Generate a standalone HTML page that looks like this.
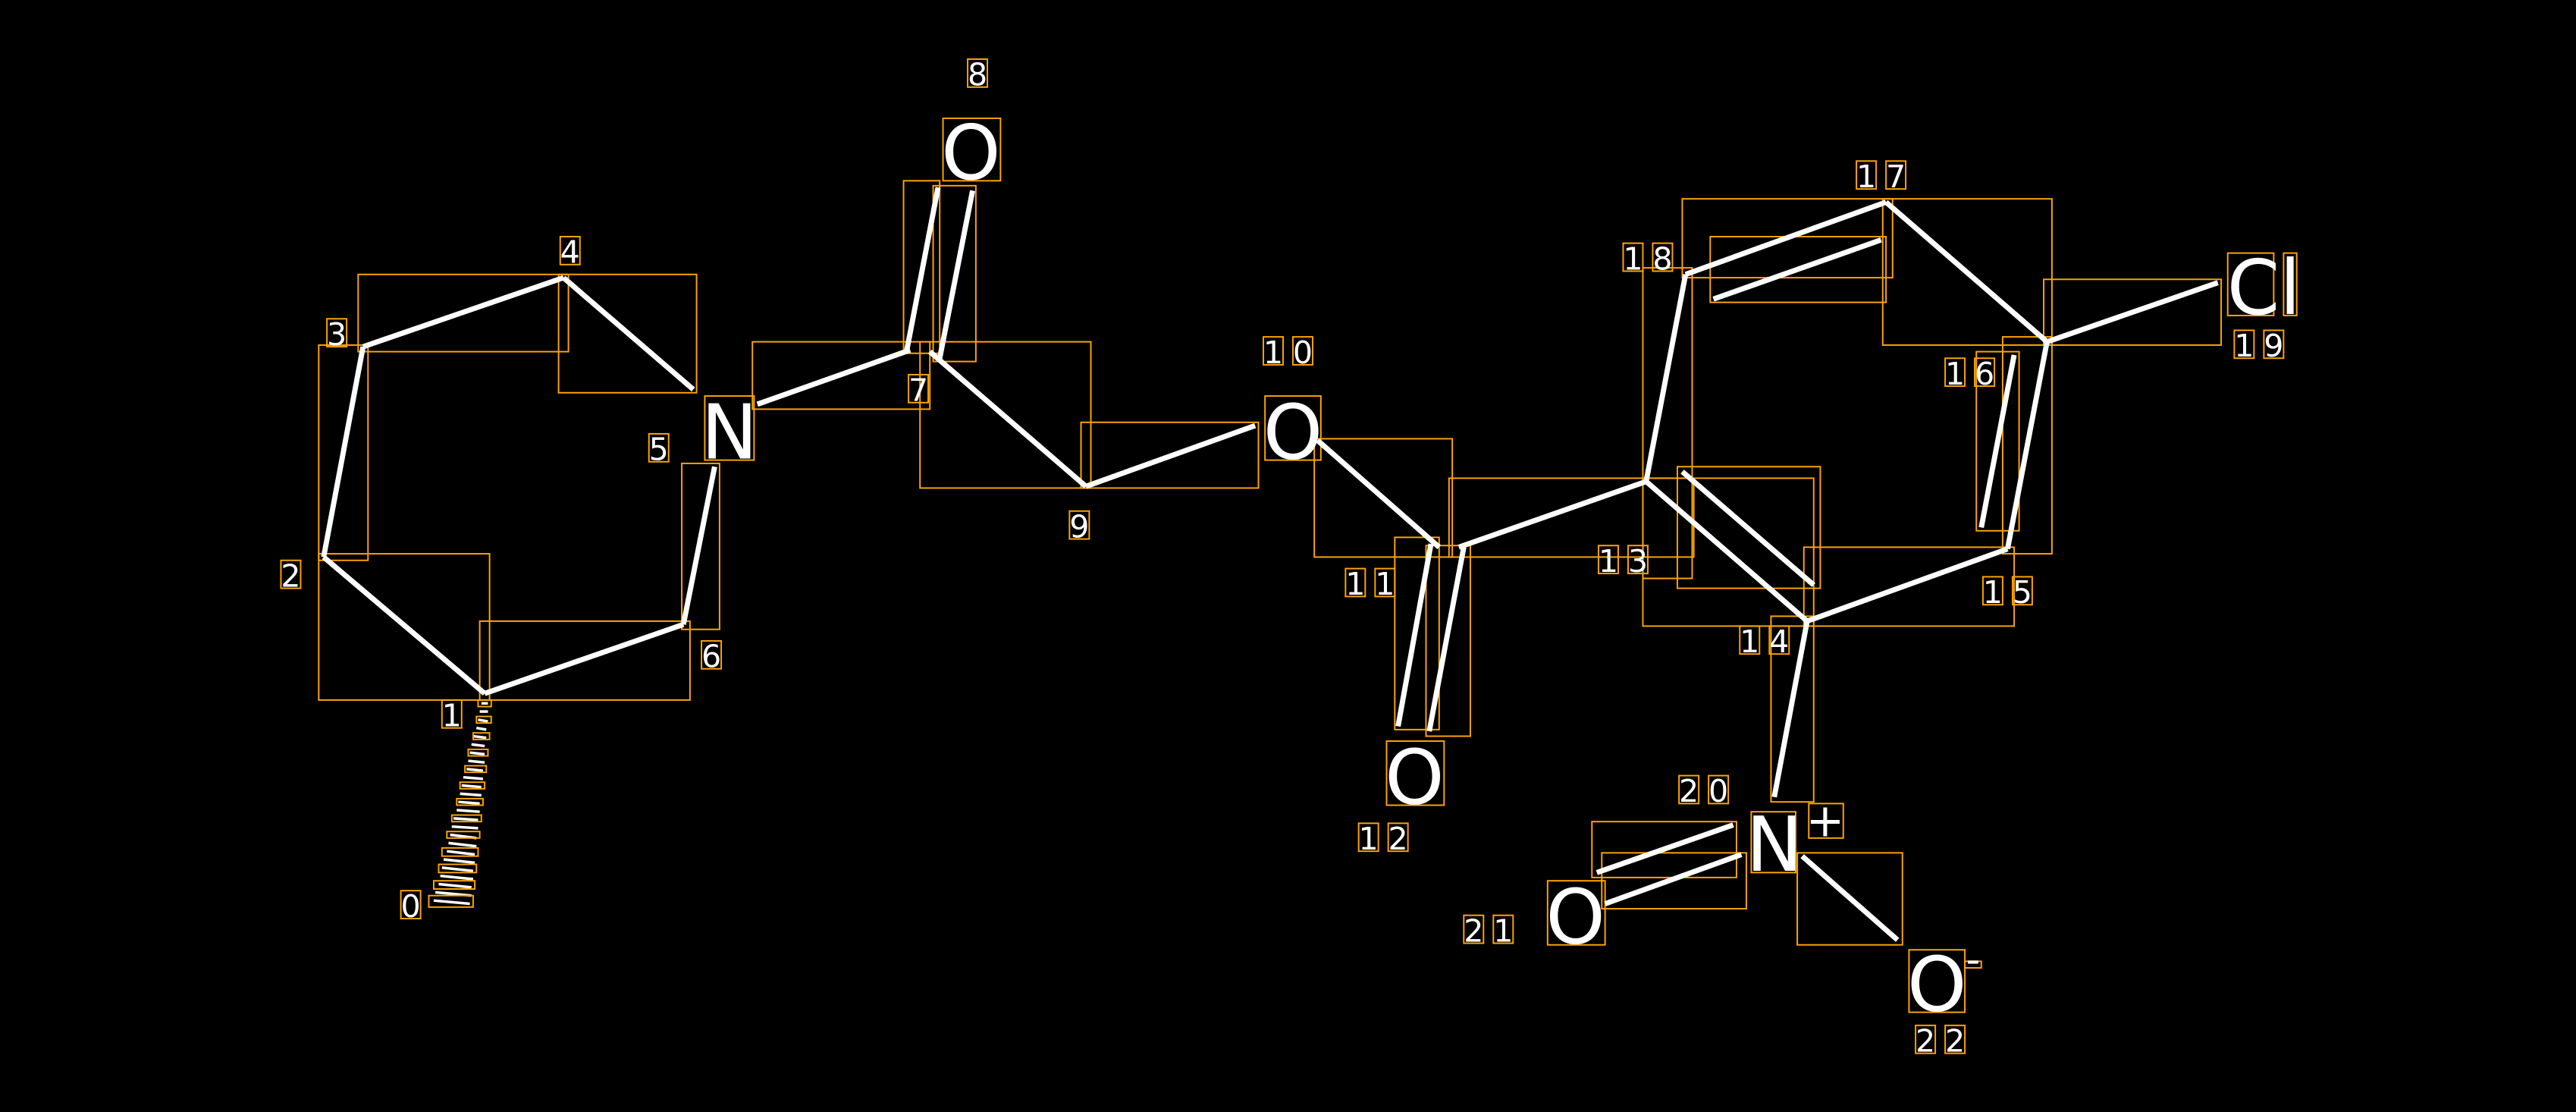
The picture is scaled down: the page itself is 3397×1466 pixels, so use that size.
<!DOCTYPE html>
<html><head><meta charset="utf-8"><style>
html,body{margin:0;padding:0;background:#000;width:3397px;height:1466px;overflow:hidden}
svg{display:block}
.b{stroke:#fff;stroke-width:3.2;stroke-linecap:butt;fill:none}
.o{stroke:#FFA500;stroke-width:0.9;fill:none}
.d{fill:#fff;font-family:"DejaVu Sans","Liberation Sans",sans-serif;font-size:19px;text-anchor:middle}
.a{fill:#fff;font-family:"DejaVu Sans","Liberation Sans",sans-serif;font-size:46px;text-anchor:middle}
</style></head><body>
<svg width="3397" height="1466" viewBox="0 0 1568 676.7" preserveAspectRatio="none" xmlns="http://www.w3.org/2000/svg">
<rect width="1568" height="676.7" fill="#000"/>
<g class="o">
<rect x="194" y="337" width="104" height="89"/>
<rect x="194" y="210" width="30" height="131"/>
<rect x="218" y="167" width="128" height="47"/>
<rect x="340" y="167" width="84" height="72"/>
<rect x="415" y="282" width="23" height="101"/>
<rect x="292" y="378" width="128" height="48"/>
<rect x="429" y="241" width="30" height="39"/>
<rect x="458" y="208" width="108" height="41"/>
<rect x="550" y="110" width="22" height="105"/>
<rect x="568" y="113" width="26" height="107"/>
<rect x="574" y="72" width="35" height="38"/>
<rect x="560" y="208" width="104" height="89"/>
<rect x="658" y="257" width="108" height="40"/>
<rect x="770" y="241" width="34" height="39"/>
<rect x="800" y="267" width="84" height="72"/>
<rect x="849" y="327" width="27" height="117"/>
<rect x="868" y="332" width="27" height="116"/>
<rect x="844" y="451" width="35" height="39"/>
<rect x="882" y="291" width="149" height="48"/>
<rect x="1000" y="291" width="104" height="90"/>
<rect x="1021" y="284" width="87" height="74"/>
<rect x="1000" y="163" width="30" height="189"/>
<rect x="1024" y="121" width="128" height="48"/>
<rect x="1041" y="144" width="107" height="40"/>
<rect x="1146" y="121" width="103" height="89"/>
<rect x="1244" y="170" width="108" height="40"/>
<rect x="1356" y="154" width="28" height="38"/>
<rect x="1390" y="154" width="8" height="38"/>
<rect x="1219" y="205" width="30" height="132"/>
<rect x="1203" y="214" width="26" height="109"/>
<rect x="1098" y="333" width="128" height="48"/>
<rect x="1078" y="375" width="26" height="113"/>
<rect x="1066" y="494" width="27" height="37"/>
<rect x="1101" y="489" width="21" height="21"/>
<rect x="969" y="500" width="88" height="34"/>
<rect x="975" y="519" width="88" height="34"/>
<rect x="942" y="536" width="35" height="39"/>
<rect x="1094" y="519" width="64" height="56"/>
<rect x="1162" y="578" width="34" height="38"/>
<rect x="1196" y="585" width="10" height="4"/>
</g>
<g class="b">
<line x1="295" y1="422" x2="197" y2="339"/>
<line x1="197" y1="339" x2="221" y2="211"/>
<line x1="221" y1="211" x2="343" y2="169"/>
<line x1="343" y1="169" x2="422" y2="237"/>
<line x1="435" y1="284" x2="416" y2="380"/>
<line x1="416" y1="380" x2="295" y2="422"/>
<line x1="461" y1="246" x2="554" y2="213"/>
<line x1="552" y1="213" x2="571" y2="114"/>
<line x1="572" y1="218" x2="592" y2="116"/>
<line x1="566" y1="214" x2="661" y2="296"/>
<line x1="661" y1="296" x2="764" y2="259"/>
<line x1="802" y1="268" x2="876" y2="333"/>
<line x1="851" y1="442" x2="871" y2="331"/>
<line x1="870" y1="445" x2="891" y2="333"/>
<line x1="888" y1="333" x2="1002" y2="293"/>
<line x1="1002" y1="293" x2="1100" y2="378"/>
<line x1="1024" y1="287" x2="1104" y2="356"/>
<line x1="1002" y1="293" x2="1026" y2="167"/>
<line x1="1026" y1="167" x2="1148" y2="123"/>
<line x1="1043" y1="182" x2="1145" y2="146"/>
<line x1="1148" y1="123" x2="1246" y2="208"/>
<line x1="1246" y1="208" x2="1350" y2="172"/>
<line x1="1246" y1="208" x2="1222" y2="334"/>
<line x1="1206" y1="321" x2="1226" y2="216"/>
<line x1="1222" y1="334" x2="1100" y2="378"/>
<line x1="1100" y1="378" x2="1080" y2="485"/>
<line x1="972" y1="531" x2="1055" y2="502"/>
<line x1="977" y1="550" x2="1060" y2="520"/>
<line x1="1097" y1="521" x2="1155" y2="572"/>
</g>
<g stroke="#fff" stroke-width="1.6">
<line x1="293" y1="428" x2="297" y2="428"/>
<line x1="292" y1="433" x2="297" y2="433"/>
<line x1="291" y1="438" x2="297" y2="439"/>
<line x1="290" y1="443" x2="296" y2="444"/>
<line x1="288" y1="448" x2="296" y2="449"/>
<line x1="287" y1="453" x2="295" y2="454"/>
<line x1="286" y1="458" x2="295" y2="459"/>
<line x1="285" y1="463" x2="295" y2="464"/>
<line x1="284" y1="468" x2="294" y2="469"/>
<line x1="282" y1="473" x2="294" y2="474"/>
<line x1="281" y1="478" x2="293" y2="479"/>
<line x1="280" y1="483" x2="293" y2="484"/>
<line x1="279" y1="488" x2="292" y2="489"/>
<line x1="278" y1="493" x2="292" y2="494"/>
<line x1="276" y1="498" x2="291" y2="499"/>
<line x1="275" y1="503" x2="291" y2="504"/>
<line x1="274" y1="508" x2="290" y2="510"/>
<line x1="273" y1="513" x2="290" y2="515"/>
<line x1="272" y1="518" x2="289" y2="520"/>
<line x1="270" y1="523" x2="289" y2="525"/>
<line x1="269" y1="528" x2="288" y2="530"/>
<line x1="268" y1="533" x2="288" y2="535"/>
<line x1="267" y1="538" x2="287" y2="540"/>
<line x1="265" y1="543" x2="287" y2="545"/>
<line x1="264" y1="548" x2="286" y2="550"/>
</g>
<g class="o">
<rect x="291" y="426" width="8" height="4"/><rect x="290" y="436" width="9" height="4"/><rect x="288" y="446" width="10" height="4"/><rect x="285" y="456" width="12" height="4"/><rect x="283" y="466" width="13" height="4"/><rect x="280" y="476" width="15" height="4"/><rect x="278" y="486" width="16" height="4"/><rect x="275" y="496" width="18" height="4"/><rect x="272" y="506" width="20" height="4"/><rect x="269" y="516" width="22" height="5"/><rect x="267" y="526" width="23" height="5"/><rect x="264" y="536" width="25" height="5"/><rect x="261" y="545" width="27" height="7"/>
</g>
<text class="a" x="444" y="279">N</text>
<text class="a" x="591" y="109">O</text>
<text class="a" x="787" y="279">O</text>
<text class="a" x="861" y="489">O</text>
<text class="a" x="1378" y="191">Cl</text>
<text class="a" x="1080" y="530">N</text>
<text class="d" x="1111" y="509" style="font-size:28px">+</text>
<text class="a" x="959" y="574">O</text>
<text class="a" x="1179" y="615">O</text>
<text class="d" x="1201" y="592" style="font-size:24px">-</text>
<g class="d">
<text x="250" y="558">0</text><text x="275" y="442">1</text><text x="177" y="357">2</text><text x="205" y="210">3</text><text x="347" y="160">4</text><text x="401" y="280">5</text><text x="433" y="406">6</text><text x="559" y="244">7</text><text x="595" y="52">8</text><text x="657" y="327">9</text>
<text x="775" y="221">1</text><text x="793" y="221">0</text>
<text x="825" y="362">1</text><text x="843" y="362">1</text>
<text x="833" y="517">1</text><text x="851" y="517">2</text>
<text x="979" y="348">1</text><text x="997" y="348">3</text>
<text x="1065" y="397">1</text><text x="1083" y="397">4</text>
<text x="1213" y="367">1</text><text x="1231" y="367">5</text>
<text x="1190" y="234">1</text><text x="1208" y="234">6</text>
<text x="1136" y="114">1</text><text x="1154" y="114">7</text>
<text x="994" y="164">1</text><text x="1012" y="164">8</text>
<text x="1366" y="217">1</text><text x="1384" y="217">9</text>
<text x="1028" y="488">2</text><text x="1046" y="488">0</text>
<text x="897" y="573">2</text><text x="915" y="573">1</text>
<text x="1172" y="640">2</text><text x="1190" y="640">2</text>
</g>
<g class="o">
<rect x="244" y="542" width="12" height="17"/><rect x="269" y="426" width="12" height="17"/><rect x="171" y="341" width="12" height="17"/><rect x="199" y="194" width="12" height="17"/><rect x="341" y="144" width="12" height="17"/><rect x="395" y="264" width="12" height="17"/><rect x="427" y="390" width="12" height="17"/><rect x="553" y="228" width="12" height="17"/><rect x="589" y="36" width="12" height="17"/><rect x="651" y="311" width="12" height="17"/>
<rect x="769" y="205" width="12" height="17"/><rect x="787" y="205" width="12" height="17"/>
<rect x="819" y="346" width="12" height="17"/><rect x="837" y="346" width="12" height="17"/>
<rect x="827" y="501" width="12" height="17"/><rect x="845" y="501" width="12" height="17"/>
<rect x="973" y="332" width="12" height="17"/><rect x="991" y="332" width="12" height="17"/>
<rect x="1059" y="381" width="12" height="17"/><rect x="1077" y="381" width="12" height="17"/>
<rect x="1207" y="351" width="12" height="17"/><rect x="1225" y="351" width="12" height="17"/>
<rect x="1184" y="218" width="12" height="17"/><rect x="1202" y="218" width="12" height="17"/>
<rect x="1130" y="98" width="12" height="17"/><rect x="1148" y="98" width="12" height="17"/>
<rect x="988" y="148" width="12" height="17"/><rect x="1006" y="148" width="12" height="17"/>
<rect x="1360" y="201" width="12" height="17"/><rect x="1378" y="201" width="12" height="17"/>
<rect x="1022" y="472" width="12" height="17"/><rect x="1040" y="472" width="12" height="17"/>
<rect x="891" y="557" width="12" height="17"/><rect x="909" y="557" width="12" height="17"/>
<rect x="1166" y="624" width="12" height="17"/><rect x="1184" y="624" width="12" height="17"/>
</g>
</svg>
</body></html>
